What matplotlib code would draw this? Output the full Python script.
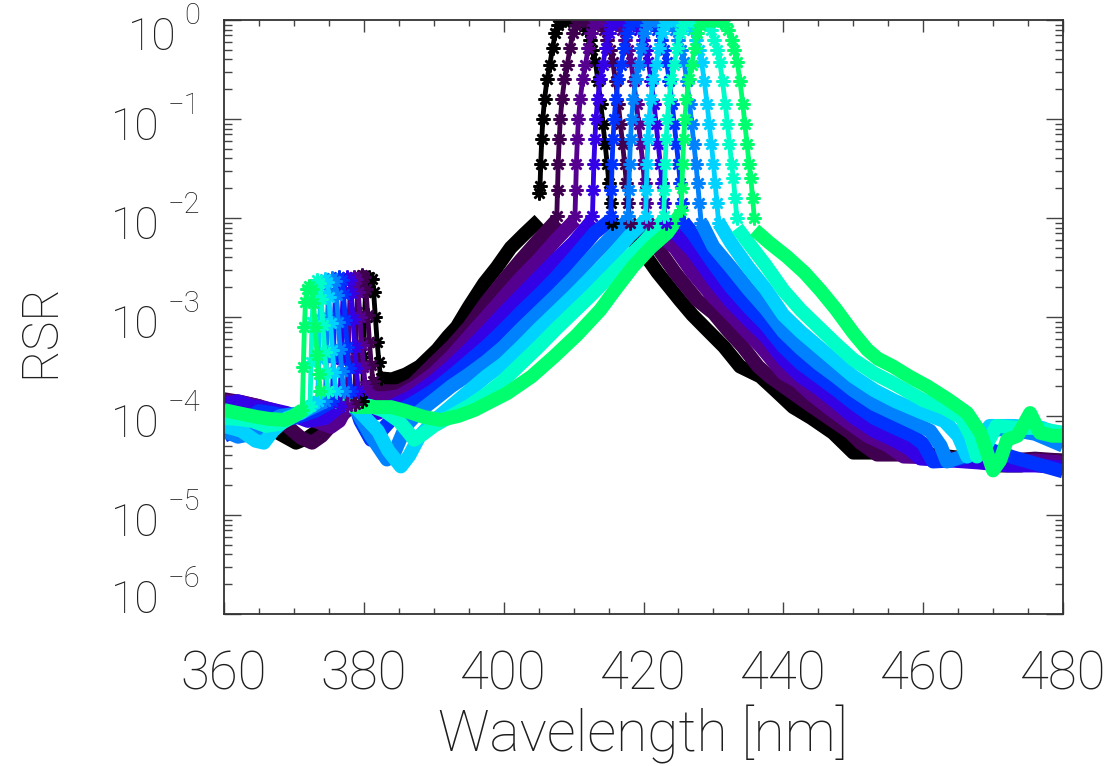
import numpy as np
import matplotlib
matplotlib.use("Agg")
import matplotlib.pyplot as plt
from matplotlib.ticker import MultipleLocator, LogLocator, NullFormatter
from matplotlib.transforms import offset_copy

# channel colours, black -> spring green
colors = ["#000000", "#400050", "#56008f", "#3400e6", "#0032ff",
          "#0082ff", "#00d2ff", "#00ffc8", "#00ff6e"]

# out-of-band line, short-wave side (360 nm up to the leak)
left_wl = [
    [360, 362, 364, 366, 368, 370.3, 372, 374, 376, 378, 379.8],
    [360, 362.5, 365, 367, 369, 371, 372.6, 374, 375.5, 377, 378.7],
    [360, 362.5, 365, 367.5, 370, 373, 375.3, 376.5, 377.6],
    [360, 362, 364, 366.5, 369, 372, 374.5, 376.6],
    [360, 361.5, 363, 365, 367, 370, 373, 375.5],
    [360, 362, 364, 366, 368, 371, 374.5],
    [360, 362.5, 364.5, 365.7, 367, 369, 371, 373.4],
    [360, 362, 364, 366, 368, 370, 372.3],
    [360, 362, 364.7, 366.5, 368.6, 370, 371.2],
]
left_log = [
    [-3.92, -3.93, -4.0, -4.1, -4.18, -4.27, -4.22, -4.12, -4.0, -3.92, -3.85],
    [-3.83, -3.86, -3.9, -3.98, -4.1, -4.22, -4.27, -4.2, -4.08, -3.98, -3.88],
    [-3.85, -3.86, -3.9, -3.95, -4.0, -4.05, -4.11, -4.05, -3.9],
    [-3.88, -3.85, -3.9, -3.93, -3.97, -4.05, -4.02, -3.9],
    [-4.2, -4.15, -4.05, -3.95, -3.97, -4.02, -3.95, -3.85],
    [-4.15, -4.21, -4.18, -4.08, -4.0, -3.97, -3.85],
    [-4.1, -4.15, -4.25, -4.27, -4.15, -4.02, -3.97, -3.85],
    [-4.02, -4.03, -4.05, -4.1, -4.08, -4.0, -3.9],
    [-3.94, -3.97, -4.01, -4.03, -4.04, -4.0, -3.94],
]

# out-of-band leak near 370-382 nm (asterisks)
leak_wl = [
    [379.8, 379.95, 380.1, 380.25, 380.45, 380.8, 381.15, 381.4, 381.65, 381.9, 382.15, 382.4],
    [378.7, 378.85, 379.0, 379.15, 379.35, 379.7, 380.05, 380.3, 380.55, 380.8, 381.05, 381.3],
    [377.6, 377.75, 377.9, 378.05, 378.25, 378.6, 378.95, 379.2, 379.45, 379.7, 379.95, 380.2],
    [376.6, 376.75, 376.9, 377.05, 377.25, 377.6, 377.95, 378.2, 378.45, 378.7, 378.95, 379.2],
    [375.5, 375.65, 375.8, 375.95, 376.15, 376.5, 376.85, 377.1, 377.35, 377.6, 377.85, 378.1],
    [374.5, 374.65, 374.8, 374.95, 375.15, 375.5, 375.85, 376.1, 376.35, 376.6, 376.85, 377.1],
    [373.4, 373.55, 373.7, 373.85, 374.05, 374.4, 374.75, 375.0, 375.25, 375.5, 375.75, 376.0],
    [372.3, 372.45, 372.6, 372.75, 372.95, 373.3, 373.65, 373.9, 374.15, 374.4, 374.65, 374.9],
    [371.2, 371.35, 371.5, 371.65, 371.85, 372.2, 372.55, 372.8, 373.05, 373.3, 373.55, 373.8],
]
leak_log = [
    [-3.85, -3.4, -3.0, -2.75, -2.62, -2.6, -2.62, -2.75, -3.0, -3.25, -3.45, -3.62],
    [-3.88, -3.4, -2.95, -2.7, -2.6, -2.58, -2.6, -2.72, -2.98, -3.25, -3.48, -3.65],
    [-3.9, -3.42, -3.0, -2.75, -2.63, -2.6, -2.62, -2.75, -3.0, -3.28, -3.5, -3.7],
    [-3.9, -3.42, -3.0, -2.75, -2.63, -2.6, -2.63, -2.76, -3.02, -3.3, -3.52, -3.75],
    [-3.85, -3.4, -3.0, -2.76, -2.64, -2.6, -2.63, -2.77, -3.03, -3.3, -3.52, -3.75],
    [-3.85, -3.4, -3.0, -2.76, -2.64, -2.61, -2.64, -2.78, -3.05, -3.32, -3.55, -3.75],
    [-3.85, -3.42, -3.02, -2.78, -2.65, -2.62, -2.65, -2.8, -3.06, -3.33, -3.56, -3.75],
    [-3.9, -3.45, -3.05, -2.8, -2.67, -2.63, -2.66, -2.82, -3.08, -3.35, -3.57, -3.75],
    [-3.94, -3.5, -3.1, -2.85, -2.72, -2.69, -2.72, -2.86, -3.1, -3.38, -3.58, -3.75],
]

# out-of-band line between the leak and the pass band
mid_wl = [
    [382.4, 384, 386, 388, 390.5, 392, 393.3, 395, 397.2, 399, 401, 403, 405.1],
    [381.3, 382.5, 385, 387, 390, 392.5, 395, 397.5, 400, 402.5, 405, 407.6],
    [380.2, 381, 383, 385, 387.5, 390, 392.5, 395, 397.5, 400, 402.5, 405, 407.5, 410.2],
    [379.2, 380.5, 382, 384, 387, 390, 392.5, 395, 397.5, 400, 402.5, 405, 407.5, 410, 412.7],
    [378.1, 379.5, 381, 382.5, 385, 387.5, 390, 392.5, 395, 397.5, 400, 402.5, 405, 407.5, 410, 413, 415.3],
    [377.1, 379, 381, 383.3, 384.5, 386, 388, 390, 392.5, 395, 397.5, 400, 402.5, 405, 407.5, 410,
     412.5, 415, 417.8],
    [376, 378, 380, 382, 383.5, 385.3, 386.5, 388, 390, 392.5, 395, 397.5, 400, 402.5, 405, 407.5,
     410, 412.5, 415, 418, 420.3],
    [374.9, 376.5, 379, 381, 383, 385, 386.2, 387.2, 388.5, 390, 392.5, 395, 397.5, 400, 402.5, 405,
     407.5, 410, 412.5, 415, 417.5, 420, 422.9],
    [373.8, 374.7, 377, 379, 383.9, 386, 388.6, 391, 393.5, 395.8, 398, 400.5, 404, 407.2, 410.5,
     413.8, 416, 418.5, 421, 423.4, 425.4],
]
mid_log = [
    [-3.62, -3.63, -3.58, -3.5, -3.33, -3.2, -3.1, -2.9, -2.66, -2.5, -2.3, -2.16, -2.02],
    [-3.65, -3.75, -3.75, -3.68, -3.47, -3.3, -3.1, -2.85, -2.63, -2.42, -2.22, -2.02],
    [-3.7, -3.82, -3.82, -3.8, -3.7, -3.57, -3.4, -3.2, -3.0, -2.8, -2.6, -2.42, -2.22, -2.02],
    [-3.75, -3.95, -3.97, -3.9, -3.8, -3.65, -3.5, -3.33, -3.15, -2.96, -2.78, -2.6, -2.42, -2.25, -2.02],
    [-3.75, -4.05, -4.24, -4.15, -3.95, -3.85, -3.74, -3.6, -3.45, -3.3, -3.13, -2.95, -2.78, -2.6,
     -2.4, -2.15, -2.02],
    [-3.75, -3.95, -4.2, -4.44, -4.35, -4.1, -3.95, -3.84, -3.7, -3.58, -3.45, -3.3, -3.12, -2.95,
     -2.78, -2.6, -2.4, -2.22, -2.02],
    [-3.75, -3.85, -4.0, -4.15, -4.35, -4.51, -4.4, -4.2, -4.05, -3.9, -3.75, -3.6, -3.47, -3.3,
     -3.12, -2.95, -2.78, -2.6, -2.42, -2.18, -2.02],
    [-3.75, -3.85, -3.88, -3.9, -3.95, -4.05, -4.15, -4.24, -4.18, -4.1, -4.0, -3.9, -3.78, -3.64,
     -3.47, -3.3, -3.12, -2.95, -2.78, -2.6, -2.42, -2.25, -2.02],
    [-3.75, -3.81, -3.88, -3.91, -3.91, -3.95, -4.01, -4.04, -4.0, -3.94, -3.86, -3.77, -3.6, -3.4,
     -3.18, -2.93, -2.72, -2.49, -2.3, -2.15, -1.95],
]

# pass band (asterisks)
band_wl = [
    [405.1, 405.2, 405.3, 405.45, 405.6, 405.85, 406.2, 406.6, 407.0, 407.4, 407.8, 408.3, 408.8, 409.3,
     409.8, 410.3, 410.8, 411.3, 411.8, 412.3, 412.7, 413.1, 413.5, 413.9, 414.2, 414.5, 414.8, 415.05,
     415.3, 415.55],
    [407.6, 407.7, 407.8, 407.95, 408.1, 408.35, 408.7, 409.1, 409.5, 409.9, 410.3, 410.8, 411.3, 411.8,
     412.3, 412.8, 413.3, 413.8, 414.3, 414.8, 415.2, 415.6, 416.0, 416.4, 416.7, 417.0, 417.3, 417.55,
     417.8, 418.05],
    [410.2, 410.3, 410.4, 410.55, 410.7, 410.95, 411.3, 411.7, 412.1, 412.5, 412.9, 413.4, 413.9, 414.4,
     414.9, 415.4, 415.9, 416.4, 416.9, 417.4, 417.8, 418.2, 418.6, 419.0, 419.3, 419.6, 419.9, 420.15,
     420.4, 420.65],
    [412.7, 412.8, 412.9, 413.05, 413.2, 413.45, 413.8, 414.2, 414.6, 415.0, 415.4, 415.9, 416.4, 416.9,
     417.4, 417.9, 418.4, 418.9, 419.4, 419.9, 420.3, 420.7, 421.1, 421.5, 421.8, 422.1, 422.4, 422.65,
     422.9, 423.15],
    [415.3, 415.4, 415.5, 415.65, 415.8, 416.05, 416.4, 416.8, 417.2, 417.6, 418.0, 418.5, 419.0, 419.5,
     420.0, 420.5, 421.0, 421.5, 422.0, 422.5, 422.9, 423.3, 423.7, 424.1, 424.4, 424.7, 425.0, 425.25,
     425.5, 425.75],
    [417.8, 417.9, 418.0, 418.15, 418.3, 418.55, 418.9, 419.3, 419.7, 420.1, 420.5, 421.0, 421.5, 422.0,
     422.5, 423.0, 423.5, 424.0, 424.5, 425.0, 425.4, 425.8, 426.2, 426.6, 426.9, 427.2, 427.5, 427.75,
     428.0, 428.25],
    [420.3, 420.4, 420.5, 420.65, 420.8, 421.05, 421.4, 421.8, 422.2, 422.6, 423.0, 423.5, 424.0, 424.5,
     425.0, 425.5, 426.0, 426.5, 427.0, 427.5, 427.9, 428.3, 428.7, 429.1, 429.4, 429.7, 430.0, 430.25,
     430.5, 430.75],
    [422.9, 423.0, 423.1, 423.25, 423.4, 423.65, 424.0, 424.4, 424.8, 425.2, 425.6, 426.1, 426.6, 427.1,
     427.6, 428.1, 428.6, 429.1, 429.6, 430.1, 430.5, 430.9, 431.3, 431.7, 432.0, 432.3, 432.6, 432.85,
     433.1, 433.35],
    [425.4, 425.5, 425.6, 425.75, 425.9, 426.15, 426.5, 426.9, 427.3, 427.7, 428.1, 428.6, 429.1, 429.6,
     430.1, 430.6, 431.1, 431.6, 432.1, 432.6, 433.0, 433.4, 433.8, 434.2, 434.5, 434.8, 435.1, 435.35,
     435.6, 435.85],
]
band_log = [
    [-1.75, -1.68, -1.45, -1.2, -1.0, -0.8, -0.6, -0.45, -0.28, -0.13, -0.05, -0.01, 0, 0, 0, 0, -0.01,
     -0.04, -0.1, -0.2, -0.3, -0.42, -0.62, -0.85, -1.05, -1.25, -1.45, -1.65, -1.85, -2.05],
    [-1.98, -1.72, -1.45, -1.2, -1.0, -0.8, -0.6, -0.45, -0.28, -0.13, -0.05, -0.01, 0, 0, 0, 0, -0.01,
     -0.04, -0.1, -0.2, -0.3, -0.42, -0.62, -0.85, -1.05, -1.25, -1.45, -1.65, -1.85, -2.05],
    [-1.98, -1.72, -1.45, -1.2, -1.0, -0.8, -0.6, -0.45, -0.28, -0.13, -0.05, -0.01, 0, 0, 0, 0, -0.01,
     -0.04, -0.1, -0.2, -0.3, -0.42, -0.62, -0.85, -1.05, -1.25, -1.45, -1.65, -1.85, -2.05],
    [-1.98, -1.72, -1.45, -1.2, -1.0, -0.8, -0.6, -0.45, -0.28, -0.13, -0.05, -0.01, 0, 0, 0, 0, -0.01,
     -0.04, -0.1, -0.2, -0.3, -0.42, -0.62, -0.85, -1.05, -1.25, -1.45, -1.65, -1.85, -2.05],
    [-1.98, -1.72, -1.45, -1.2, -1.0, -0.8, -0.6, -0.45, -0.28, -0.13, -0.05, -0.01, 0, 0, 0, 0, -0.01,
     -0.04, -0.1, -0.2, -0.3, -0.42, -0.62, -0.85, -1.05, -1.25, -1.45, -1.65, -1.85, -2.05],
    [-1.98, -1.72, -1.45, -1.2, -1.0, -0.8, -0.6, -0.45, -0.28, -0.13, -0.05, -0.01, 0, 0, 0, 0, -0.01,
     -0.04, -0.1, -0.2, -0.3, -0.42, -0.62, -0.85, -1.05, -1.25, -1.45, -1.65, -1.85, -2.05],
    [-1.98, -1.72, -1.45, -1.2, -1.0, -0.8, -0.6, -0.45, -0.28, -0.13, -0.05, -0.01, 0, 0, 0, 0, -0.01,
     -0.04, -0.1, -0.2, -0.3, -0.42, -0.62, -0.85, -1.05, -1.25, -1.45, -1.65, -1.85, -2.05],
    [-1.98, -1.72, -1.45, -1.2, -1.0, -0.8, -0.6, -0.45, -0.28, -0.13, -0.05, -0.01, 0, 0, 0, 0, -0.01,
     -0.04, -0.1, -0.2, -0.3, -0.42, -0.62, -0.85, -1.05, -1.25, -1.45, -1.6, -1.8, -2.0],
    [-1.92, -1.7, -1.45, -1.2, -1.0, -0.8, -0.6, -0.45, -0.28, -0.13, -0.05, -0.01, 0, 0, 0, 0, -0.01,
     -0.04, -0.1, -0.2, -0.3, -0.42, -0.62, -0.85, -1.05, -1.25, -1.45, -1.6, -1.8, -2.0],
]

# out-of-band line, long-wave side (pass band up to 480 nm)
right_wl = [
    [415.6, 417, 419.5, 422, 425.2, 427, 429.1, 431.5, 433.8, 436.7, 439, 441.4, 444, 447.1, 450, 455,
     460, 465, 468, 471, 474, 477, 480],
    [418.1, 419.5, 422, 424.5, 427.7, 430, 432, 434.2, 436.4, 438, 440, 442, 444, 446.5, 449.6, 451,
     453.4, 458, 463, 468, 472, 476, 480],
    [420.7, 422, 424.5, 427, 430, 432.5, 434.5, 436.8, 440, 442, 444, 446.5, 449, 452, 455, 457.2, 462,
     467, 472, 476, 480],
    [423.2, 424.5, 427, 430, 432.5, 435, 437.5, 440, 442.5, 445, 447.5, 450, 453, 456, 458, 459.6, 464,
     468, 472, 476, 480],
    [425.8, 427, 430, 432.5, 435, 437.5, 440, 442.5, 445, 447.5, 450, 453, 456, 458.5, 460, 461.4, 464,
     467, 470, 473, 476, 480],
    [428.3, 430, 432.5, 435, 437.5, 440, 442.5, 445, 447.5, 450, 453, 456, 459, 461, 462.5, 463.4, 466,
     468, 472, 476, 480],
    [430.8, 432.5, 435, 437.5, 440, 442.5, 445, 447.5, 450, 453, 456, 460, 463, 465, 466.3, 468, 469.5,
     473, 477, 480],
    [433.4, 435, 437.5, 440, 442.5, 445, 447.5, 450, 453, 456, 460, 463, 465.5, 466.8, 467.7, 469,
     470.5, 473.4, 476, 480],
    [435.9, 438, 440.5, 443, 445.3, 447.5, 450, 452, 453.5, 455.7, 458, 460.6, 463.5, 466.3, 468.2, 470,
     471, 472, 473.5, 475.3, 476.7, 478.5, 480],
]
right_log = [
    [-2.05, -2.15, -2.3, -2.55, -2.83, -2.98, -3.13, -3.3, -3.5, -3.6, -3.75, -3.91, -4.02, -4.17,
     -4.37, -4.37, -4.38, -4.42, -4.45, -4.5, -4.5, -4.45, -4.45],
    [-2.05, -2.15, -2.3, -2.55, -2.83, -2.96, -3.13, -3.3, -3.5, -3.6, -3.7, -3.8, -3.9, -4.02, -4.17,
     -4.27, -4.39, -4.39, -4.42, -4.45, -4.45, -4.43, -4.45],
    [-2.05, -2.15, -2.3, -2.55, -2.8, -2.98, -3.13, -3.3, -3.57, -3.65, -3.78, -3.92, -4.05, -4.2,
     -4.3, -4.41, -4.42, -4.45, -4.47, -4.45, -4.47],
    [-2.05, -2.15, -2.33, -2.63, -2.85, -3.03, -3.2, -3.43, -3.6, -3.72, -3.86, -4.01, -4.15, -4.25,
     -4.33, -4.43, -4.45, -4.47, -4.5, -4.5, -4.52],
    [-2.05, -2.15, -2.46, -2.7, -2.9, -3.08, -3.3, -3.47, -3.6, -3.73, -3.87, -4.02, -4.12, -4.2,
     -4.28, -4.46, -4.45, -4.4, -4.35, -4.42, -4.48, -4.56],
    [-2.05, -2.29, -2.5, -2.72, -2.92, -3.15, -3.32, -3.47, -3.6, -3.74, -3.88, -3.98, -4.08, -4.15,
     -4.3, -4.46, -4.4, -4.15, -4.13, -4.18, -4.3],
    [-2.05, -2.25, -2.5, -2.72, -2.98, -3.15, -3.3, -3.45, -3.6, -3.74, -3.85, -3.97, -4.05, -4.2,
     -4.41, -4.3, -4.1, -4.1, -4.12, -4.2],
    [-2.1, -2.25, -2.48, -2.73, -2.93, -3.1, -3.27, -3.43, -3.57, -3.68, -3.84, -3.92, -4.02, -4.2,
     -4.41, -4.3, -4.1, -4.12, -4.12, -4.17],
    [-2.12, -2.25, -2.39, -2.55, -2.73, -2.92, -3.16, -3.33, -3.42, -3.5, -3.6, -3.7, -3.83, -3.97,
     -4.17, -4.55, -4.45, -4.24, -4.2, -3.97, -4.17, -4.2, -4.2],
]

x_ticks = [360, 380, 400, 420, 440, 460, 480]
y_exponents = [-6, -5, -4, -3, -2, -1, 0]

FONT = "Roboto"
THIN = 100
TXT = "#1e1e1e"
plt.rcParams["font.family"] = FONT
plt.rcParams["font.weight"] = THIN

fig = plt.figure(figsize=(11.17, 7.66), dpi=100)
ax = fig.add_axes([224 / 1117, 1 - 614 / 766, (1063 - 224) / 1117, (614 - 20) / 766])

star = (8, 2, 0)

# lines first, then the asterisk data on top
for i, c in enumerate(colors):
    for wl, lg in ((left_wl[i], left_log[i]), (mid_wl[i], mid_log[i]), (right_wl[i], right_log[i])):
        ax.plot(wl, 10.0 ** np.array(lg), color=c, lw=10, solid_capstyle="butt",
                solid_joinstyle="round")

for i, c in enumerate(colors):
    for wl, lg in ((leak_wl[i], leak_log[i]), (band_wl[i], band_log[i])):
        ax.plot(wl, 10.0 ** np.array(lg), color=c, lw=3.5, marker=star, ms=10, mew=1.8,
                mec=c, solid_joinstyle="round")

ax.set_yscale("log")
ax.set_xlim(360, 480)
ax.set_ylim(1e-6, 1)

ax.set_xticks(x_ticks)
ax.set_xticklabels([str(v) for v in x_ticks])
ax.xaxis.set_minor_locator(MultipleLocator(5))
ax.set_yticks([10.0 ** e for e in y_exponents])
ax.set_yticklabels([])
ax.yaxis.set_minor_locator(LogLocator(base=10, subs=np.arange(2, 10), numticks=20))
ax.yaxis.set_minor_formatter(NullFormatter())

tick_col = "#444444"
ax.tick_params(axis="x", which="major", direction="in", top=True, bottom=True,
               length=8.6, width=1.0, color=tick_col, labelsize=38, pad=25, labelcolor=TXT)
ax.tick_params(axis="x", which="minor", direction="in", top=True, bottom=True,
               length=4.3, width=1.0, color=tick_col)
ax.tick_params(axis="y", which="major", direction="in", left=True, right=True,
               length=12.2, width=1.0, color=tick_col)
ax.tick_params(axis="y", which="minor", direction="in", left=True, right=True,
               length=6, width=1.0, color=tick_col)
for s in ax.spines.values():
    s.set_color("#333333")
    s.set_linewidth(1.3)

# y tick labels drawn as "10" plus a raised exponent, IDL style
for e in y_exponents:
    base_off = {0: 30, -6: -1}.get(e, 21)       # baseline of "10" below the tick, px
    tr = offset_copy(ax.get_yaxis_transform(), fig=fig, x=-24, y=-base_off + 26, units="dots")
    exp_txt = ax.text(0, 10.0 ** e, "\u2212%d" % -e if e < 0 else "0", transform=tr,
                      ha="right", va="baseline", fontsize=21, fontweight=THIN, color=TXT,
                      clip_on=False)
    ax.annotate("10", xy=(0, 10.0 ** e), xycoords=(exp_txt, "data"),
                xytext=(-8, -base_off), textcoords="offset pixels",
                ha="right", va="baseline", fontsize=32, fontweight=THIN, color=TXT,
                annotation_clip=False)

ax.set_xlabel("Wavelength [nm]", fontsize=41, fontweight=THIN, color=TXT, va="top")
ax.xaxis.set_label_coords(0.499, (614 - 705) / 594)
ax.set_ylabel("RSR", fontsize=36, fontweight=THIN, color=TXT)
ax.yaxis.set_label_coords((64 - 224) / 839, (614 - 330) / 594)

fig.savefig("out.png", dpi=100)
